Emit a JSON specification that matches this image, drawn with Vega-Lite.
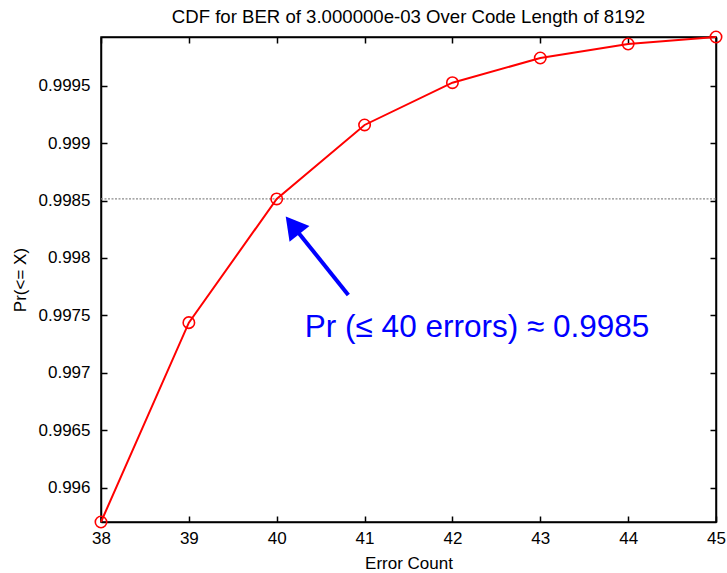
{
  "$schema": "https://vega.github.io/schema/vega-lite/v6.json",
  "width": 615,
  "height": 485,
  "autosize": {"type": "none"},
  "padding": {"left": 101, "top": 37, "right": 11, "bottom": 51},
  "background": "white",
  "title": {
    "text": "CDF for BER of 3.000000e-03 Over Code Length of 8192",
    "fontSize": 18.6,
    "font": "Liberation Sans",
    "fontWeight": "normal",
    "color": "black",
    "anchor": "middle",
    "offset": 1
  },
  "config": {
    "view": {"stroke": "black", "strokeWidth": 1.5},
    "axis": {
      "domainColor": "black",
      "domainWidth": 1.5,
      "tickColor": "black",
      "tickWidth": 1.5,
      "tickSize": -6,
      "labelFont": "Liberation Sans",
      "labelFontSize": 17,
      "labelColor": "black",
      "labelFlush": false,
      "labelOverlap": false,
      "titleFont": "Liberation Sans",
      "titleFontSize": 17,
      "titleFontWeight": "normal",
      "titleColor": "black",
      "grid": false
    }
  },
  "resolve": {"axis": {"x": "independent", "y": "independent"}},
  "data": {
    "values": [
      {"errors": 38, "cdf": 0.995701},
      {"errors": 39, "cdf": 0.997437},
      {"errors": 40, "cdf": 0.998514},
      {"errors": 41, "cdf": 0.999158},
      {"errors": 42, "cdf": 0.999526},
      {"errors": 43, "cdf": 0.999741},
      {"errors": 44, "cdf": 0.999863},
      {"errors": 45, "cdf": 0.999924}
    ]
  },
  "layer": [
    {
      "data": {"values": [{"level": 0.998514, "from": 38, "to": 45}]},
      "mark": {"type": "rule", "color": "#8c8c8c", "strokeWidth": 1.2, "strokeDash": [2, 1.5]},
      "encoding": {
        "x": {"field": "from", "type": "quantitative", "axis": null},
        "x2": {"field": "to"},
        "y": {"field": "level", "type": "quantitative", "axis": null}
      }
    },
    {
      "mark": {
        "type": "line",
        "color": "#ff0000",
        "strokeWidth": 2,
        "point": {"filled": false, "shape": "circle", "size": 130, "strokeWidth": 1.6, "color": "#ff0000", "fill": "none"}
      },
      "encoding": {
        "x": {
          "field": "errors",
          "type": "quantitative",
          "scale": {"domain": [38, 45], "nice": false, "zero": false},
          "axis": {"title": "Error Count", "values": [38, 39, 40, 41, 42, 43, 44, 45], "format": "d", "labelPadding": 14, "titlePadding": 9}
        },
        "y": {
          "field": "cdf",
          "type": "quantitative",
          "scale": {"domain": [0.995701, 0.999924], "nice": false, "zero": false},
          "axis": {"title": "Pr(<= X)", "values": [0.996, 0.9965, 0.997, 0.9975, 0.998, 0.9985, 0.999, 0.9995], "format": "~g", "labelPadding": 17, "titlePadding": 9}
        }
      }
    },
    {
      "data": {"values": [{}]},
      "mark": {"type": "rule", "color": "#0000ff", "strokeWidth": 4, "strokeCap": "butt"},
      "encoding": {
        "x": {"datum": 40.815, "axis": null},
        "y": {"datum": 0.997678, "axis": null},
        "x2": {"datum": 40.19},
        "y2": {"datum": 0.998275}
      }
    },
    {
      "data": {"values": [{}]},
      "mark": {"type": "point", "shape": "triangle-up", "filled": true, "color": "#0000ff", "size": 650, "angle": 321.4, "opacity": 1, "strokeWidth": 0},
      "encoding": {
        "x": {"datum": 40.181, "axis": null},
        "y": {"datum": 0.998285, "axis": null}
      }
    },
    {
      "data": {"values": [{}]},
      "mark": {"type": "text", "text": "Pr (≤ 40 errors) ≈ 0.9985", "color": "#0000ff", "font": "Liberation Sans", "fontSize": 31.5, "align": "left", "baseline": "alphabetic"},
      "encoding": {
        "x": {"datum": 40.32, "axis": null},
        "y": {"datum": 0.997315, "axis": null}
      }
    },
    {
      "data": {"values": [{}]},
      "mark": {"type": "point", "opacity": 0},
      "encoding": {
        "x": {"datum": 42, "type": "quantitative", "axis": {"orient": "top", "labels": false, "title": null, "values": [38, 39, 40, 41, 42, 43, 44, 45]}},
        "y": {"datum": 0.998, "type": "quantitative", "axis": {"orient": "right", "labels": false, "title": null, "values": [0.996, 0.9965, 0.997, 0.9975, 0.998, 0.9985, 0.999, 0.9995]}}
      }
    }
  ]
}
